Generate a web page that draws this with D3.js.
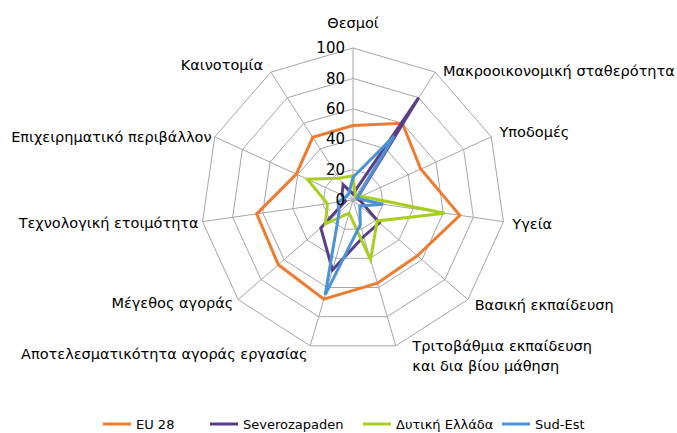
<!DOCTYPE html>
<html lang="el">
<head>
    <meta charset="UTF-8">
    <title>Radar</title>
    <script src="https://cdn.jsdelivr.net/npm/d3@7"></script>
    <style>
        html, body {
            margin: 0;
            background: white;
            font-family: "DejaVu Sans", sans-serif;
        }
    </style>
</head>
<body>
    <div id="vis"></div>
    <script>

        var categories = [
            ["Θεσμοί"],
            ["Μακροοικονομική σταθερότητα"],
            ["Υποδομές"],
            ["Υγεία"],
            ["Βασική εκπαίδευση"],
            ["Τριτοβάθμια εκπαίδευση", "και δια βίου μάθηση"],
            ["Αποτελεσματικότητα αγοράς εργασίας"],
            ["Μέγεθος αγοράς"],
            ["Τεχνολογική ετοιμότητα"],
            ["Επιχειρηματικό περιβάλλον"],
            ["Καινοτομία"]
        ];

        var seriesNames = ["EU 28", "Severozapaden", "Δυτική Ελλάδα", "Sud-Est"];

        var eu28 = [49, 60, 49, 71, 56, 57, 68, 65, 64, 41, 49];
        var severozapaden = [4, 80, 3, 5, 23, 25, 48, 28, 5, 8, 12];
        var dytikiEllada = [16, 3, 6, 61, 21, 41, 9, 24, 17, 33, 17];
        var sudEst = [15, 50, 3, 20, 6, 17, 65, 12, 10, 5, 5];

        var ticks = [0, 20, 40, 60, 80, 100];

        var colours = ["#f07b2e", "#5b3f86", "#a8cf1e", "#4b93d6"];

        var width = 677;
        var height = 433;
        var cx = 353;
        var cy = 200;
        var R = 152;

        var svg = d3.select('#vis')
                    .append('svg')
                        .attr('width', width)
                        .attr('height', height);

        var r = d3.scaleLinear()
                    .domain([0, 100])
                    .range([0, R]);

        var angle = d3.scaleLinear()
                    .domain([0, categories.length])
                    .range([0, 2 * Math.PI]);

        var g = svg.append('g')
                    .attr('transform', 'translate(' + cx + ',' + cy + ')');

        function px(i, v){ return Math.sin(angle(i)) * r(v); }
        function py(i, v){ return -Math.cos(angle(i)) * r(v); }

        // grid rings
        ticks.slice(1).forEach(function(t){
            g.append('polygon')
                .attr('points', categories.map(function(c, i){
                    return px(i, t) + ',' + py(i, t);
                }).join(' '))
                .attr('fill', 'none')
                .attr('stroke', '#a6a6a6')
                .attr('stroke-width', 1);
        });

        // spokes
        g.selectAll('.spoke')
            .data(categories)
            .enter()
            .append('line')
            .attr('class', 'spoke')
            .attr('x1', 0).attr('y1', 0)
            .attr('x2', function(d, i){ return px(i, 100); })
            .attr('y2', function(d, i){ return py(i, 100); })
            .attr('stroke', '#a6a6a6')
            .attr('stroke-width', 1);

        // series
        var allSeries = [eu28, severozapaden, dytikiEllada, sudEst];
        var line = d3.lineRadial()
                    .angle(function(d, i){ return angle(i); })
                    .radius(function(d){ return r(d); })
                    .curve(d3.curveLinearClosed);

        g.selectAll('.series')
            .data(allSeries)
            .enter()
            .append('path')
            .attr('class', 'series')
            .attr('d', line)
            .attr('fill', 'none')
            .attr('stroke', function(d, i){ return colours[i]; })
            .attr('stroke-width', 3)
            .attr('stroke-linejoin', 'miter');

        // tick labels
        g.selectAll('.tick')
            .data(ticks)
            .enter()
            .append('text')
            .attr('class', 'tick')
            .attr('x', -8)
            .attr('y', function(d){ return -r(d); })
            .attr('dy', '0.35em')
            .attr('text-anchor', 'end')
            .attr('font-size', '15px')
            .attr('fill', '#000')
            .text(function(d){ return d; });

        // category labels, nudged per side to sit like the original
        var nudge = [
            [0, 0], [3, 6], [0, -2], [0, 1], [0, 0], [14, -8],
            [0, 0], [2, -2], [5, 0], [5, 3], [-3, 0]
        ];

        var labels = g.selectAll('.cat')
            .data(categories)
            .enter()
            .append('text')
            .attr('class', 'cat')
            .attr('font-size', '14.5px')
            .attr('fill', '#000')
            .attr('text-anchor', function(d, i){
                var s = Math.sin(angle(i));
                if (Math.abs(s) < 0.01) return 'middle';
                return s > 0 ? 'start' : 'end';
            })
            .attr('transform', function(d, i){
                var x = px(i, 100) + Math.sin(angle(i)) * 9 + nudge[i][0];
                var y = py(i, 100) - Math.cos(angle(i)) * 8 + nudge[i][1];
                if (i === 0) y = -177;
                return 'translate(' + x + ',' + y + ')';
            });

        labels.selectAll('tspan')
            .data(function(d){ return d; })
            .enter()
            .append('tspan')
            .attr('x', 0)
            .attr('dy', function(d, j){ return j === 0 ? '0.35em' : '1.4em'; })
            .text(function(d){ return d; });

        // legend
        var legendX = [103, 210, 363, 502];
        var legend = svg.selectAll('.legend')
            .data(seriesNames)
            .enter()
            .append('g')
            .attr('class', 'legend')
            .attr('transform', function(d, i){ return 'translate(' + legendX[i] + ',424)'; });

        legend.append('line')
            .attr('x1', 0).attr('x2', 28)
            .attr('y1', 0).attr('y2', 0)
            .attr('stroke', function(d, i){ return colours[i]; })
            .attr('stroke-width', 3);

        legend.append('text')
            .attr('x', 33)
            .attr('dy', '0.35em')
            .attr('font-size', '13px')
            .text(function(d){ return d; });

    </script>
</body>
</html>
